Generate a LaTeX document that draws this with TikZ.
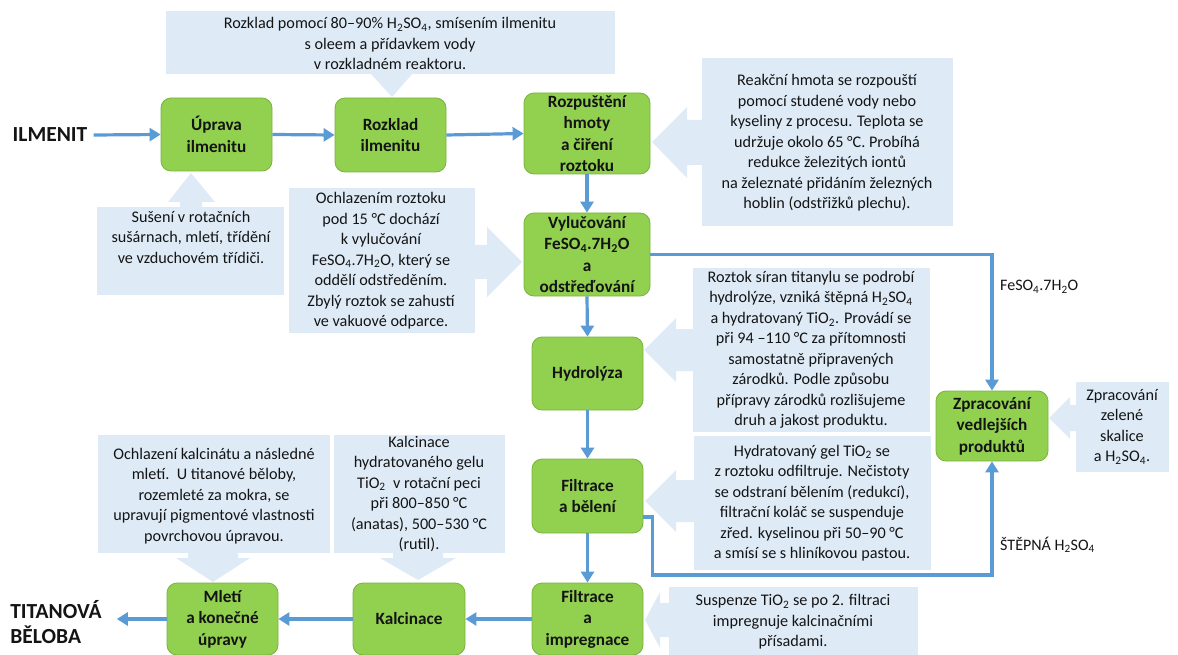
\documentclass[tikz,border=0pt]{standalone}
\usepackage{fontspec}
\setmainfont{Carlito}
\usetikzlibrary{arrows.meta}
\definecolor{gfill}{RGB}{146,208,80}
\definecolor{gline}{RGB}{122,178,62}
\definecolor{cfill}{RGB}{222,235,247}
\definecolor{conn}{RGB}{91,155,213}
\definecolor{txt}{RGB}{20,20,20}
\begin{document}
\begin{tikzpicture}[x=1pt,y=-1pt,
  gbox/.style={draw=gline, line width=0.8pt, fill=gfill, rounded corners=10pt, align=center,
    font=\fontsize{17.2}{21.5}\selectfont\bfseries, inner sep=1pt, text=txt},
  ctext/.style={align=center, font=\fontsize{16.2}{20.5}\selectfont, inner sep=0pt, text=txt},
  callout/.style={fill=cfill},
  flow/.style={draw=conn, line width=3.2pt, -{Triangle[length=11pt,width=13pt]}},
  big/.style={font=\fontsize{21.5}{25}\selectfont\bfseries, align=left, inner sep=0pt, text=txt},
  lbl/.style={font=\fontsize{16}{20}\selectfont, anchor=west, inner sep=0pt, text=txt}
]
\useasboundingbox (0,0) rectangle (1178,655);

% ---------- callout shapes ----------
% top (Rozklad)
\fill[callout] (166,11) rectangle (615,74);
\fill[callout] (370,73) -- (413,73) -- (392,97) -- cycle;
% Reakcni
\fill[callout] (702,58) rectangle (953,226);
\fill[callout] (703,120) -- (687,120) -- (687,107) -- (652,142) -- (687,178) -- (687,165) -- (703,165) -- cycle;
% Suseni
\fill[callout] (97,207) rectangle (284,295);
\fill[callout] (180,208) -- (180,202) -- (168,202) -- (191,173) -- (215,202) -- (202,202) -- (202,208) -- cycle;
% Ochlazenim
\fill[callout] (289,188) rectangle (475,333);
\fill[callout] (474,245) -- (487,245) -- (487,227) -- (522,262) -- (487,297) -- (487,279) -- (474,279) -- cycle;
% Roztok
\fill[callout] (693,268) rectangle (930,432);
\fill[callout] (694,329) -- (676,329) -- (676,318) -- (644,350) -- (676,382) -- (676,371) -- (694,371) -- cycle;
% Hydratovany
\fill[callout] (694,436) rectangle (931,570);
\fill[callout] (695,480) -- (676,480) -- (676,470) -- (645,501) -- (676,532) -- (676,522) -- (695,522) -- cycle;
% Suspenze
\fill[callout] (669,587) rectangle (918,655);
\fill[callout] (670,603) -- (660,603) -- (660,592) -- (645,620) -- (660,648) -- (660,637) -- (670,637) -- cycle;
% Zpracovani zelene skalice
\fill[callout] (1076,382) rectangle (1169,472);
\fill[callout] (1077,405) -- (1070,405) -- (1070,397) -- (1049,418) -- (1070,439) -- (1070,431) -- (1077,431) -- cycle;
% Ochlazeni kalcinatu
\fill[callout] (98,435) rectangle (330,553);
\fill[callout] (188,552) -- (188,558) -- (176,558) -- (213,582) -- (250,558) -- (238,558) -- (238,552) -- cycle;
% Kalcinace
\fill[callout] (334,435) rectangle (505,553);
\fill[callout] (393,552) -- (393,558) -- (380,558) -- (418,580) -- (456,558) -- (443,558) -- (443,552) -- cycle;

% ---------- callout texts ----------
\node[ctext] (t-rozklad) at (390,43.5) {Rozklad pomocí 80–90\% H\textsubscript{2}SO\textsubscript{4}, smísením ilmenitu\\s oleem a přídavkem vody\\v rozkladném reaktoru.};
\node[ctext] (t-reakcni) at (827,143) {Reakční hmota se rozpouští\\pomocí studené vody nebo\\kyseliny z procesu. Teplota se\\udržuje okolo 65 °C. Probíhá\\redukce železitých iontů\\na železnaté přidáním železných\\hoblin (odstřižků plechu).};
\node[ctext] (t-suseni) at (191,237) {Sušení v rotačních\\sušárnach, mletí, třídění\\ve vzduchovém třídiči.};
\node[ctext] (t-ochlazenim) at (381,261) {Ochlazením roztoku\\pod 15 °C dochází\\k vylučování\\FeSO\textsubscript{4}.7H\textsubscript{2}O, který se\\oddělí odstředěním.\\Zbylý roztok se zahustí\\ve vakuové odparce.};
\node[ctext] (t-roztok) at (811,350) {Roztok síran titanylu se podrobí\\hydrolýze, vzniká štěpná H\textsubscript{2}SO\textsubscript{4}\\a hydratovaný TiO\textsubscript{2}. Provádí se\\při 94 –110 °C za přítomnosti\\samostatně připravených\\zárodků. Podle způsobu\\přípravy zárodků rozlišujeme\\druh a jakost produktu.};
\node[ctext] (t-hydrat) at (812,503) {Hydratovaný gel TiO\textsubscript{2} se\\z roztoku odfiltruje. Nečistoty\\se odstraní bělením (redukcí),\\filtrační koláč se suspenduje\\zřed. kyselinou při 50–90 °C\\a smísí se s hliníkovou pastou.};
\node[ctext] (t-suspenze) at (793,622) {Suspenze TiO\textsubscript{2} se po 2. filtraci\\impregnuje kalcinačními\\přísadami.};
\node[ctext] (t-skalice) at (1122,427) {Zpracování\\zelené\\skalice\\a H\textsubscript{2}SO\textsubscript{4}.};
\node[ctext] (t-mleti) at (214,496) {Ochlazení kalcinátu a následné\\mletí.\ \ U titanové běloby,\\rozemleté za mokra, se\\upravují pigmentové vlastnosti\\povrchovou úpravou.};
\node[ctext] (t-kalc) at (419,494) {Kalcinace\\hydratovaného gelu\\TiO\textsubscript{2}\ \ v rotační peci\\při 800–850 °C\\(anatas), 500–530 °C\\(rutil).};

% ---------- process boxes ----------
\node[gbox, minimum width=111pt, minimum height=73pt] (uprava) at (216.5,134.5) {Úprava\\ilmenitu};
\node[gbox, minimum width=111pt, minimum height=74pt] (rozklad) at (390.5,135) {Rozklad\\ilmenitu};
\node[gbox, minimum width=126pt, minimum height=81pt] (rozpusteni) at (587,133.5) {Rozpuštění\\hmoty\\a čiření\\roztoku};
\node[gbox, minimum width=126pt, minimum height=83pt] (vylucovani) at (587,254.5) {Vylučování\\FeSO\textsubscript{4}.7H\textsubscript{2}O\\a\\odstřeďování};
\node[gbox, minimum width=111pt, minimum height=73pt] (hydrolyza) at (587.5,373.5) {Hydrolýza};
\node[gbox, minimum width=111pt, minimum height=74pt] (beleni) at (587.5,496) {Filtrace\\a bělení};
\node[gbox, minimum width=111pt, minimum height=72pt] (impregnace) at (587.5,619) {Filtrace\\a\\impregnace};
\node[gbox, minimum width=112pt, minimum height=72pt] (kalcinace) at (409,619) {Kalcinace};
\node[gbox, minimum width=111pt, minimum height=72pt] (mleti) at (222.5,619) {Mletí\\a konečné\\úpravy};
\node[gbox, minimum width=112pt, minimum height=70pt] (zpracovani) at (992,426) {Zpracování\\vedlejších\\produktů};

% ---------- end labels ----------
\node[big] (ilmenit) at (50,135) {ILMENIT};
\node[big] (titanova) at (56,622) {TITANOVÁ\\BĚLOBA};
\node[lbl] (fe) at (1000,287) {FeSO\textsubscript{4}.7H\textsubscript{2}O};
\node[lbl] (stepna) at (1000,545) {ŠTĚPNÁ H\textsubscript{2}SO\textsubscript{4}};

% ---------- connectors ----------
\draw[flow] ([xshift=6pt]ilmenit.east) -- (uprava.west);
\draw[flow] (uprava.east) -- (rozklad.west);
\draw[flow] (rozklad.east) -- (rozpusteni.west);
\draw[flow] (rozpusteni.south) -- (vylucovani.north);
\draw[flow] (vylucovani.south) -- (hydrolyza.north);
\draw[flow] (hydrolyza.south) -- (beleni.north);
\draw[flow] (beleni.south) -- (impregnace.north);
\draw[flow] (impregnace.west) -- (kalcinace.east);
\draw[flow] (kalcinace.west) -- (mleti.east);
\draw[flow] (mleti.west) -- ([xshift=15pt]mleti.west -| titanova.east);
\draw[flow] (vylucovani.east) -| (zpracovani.north);
\draw[flow] ([yshift=-21pt]beleni.east) -- ++(9,0) -- ++(0,58) -| (zpracovani.south);
\end{tikzpicture}
\end{document}
